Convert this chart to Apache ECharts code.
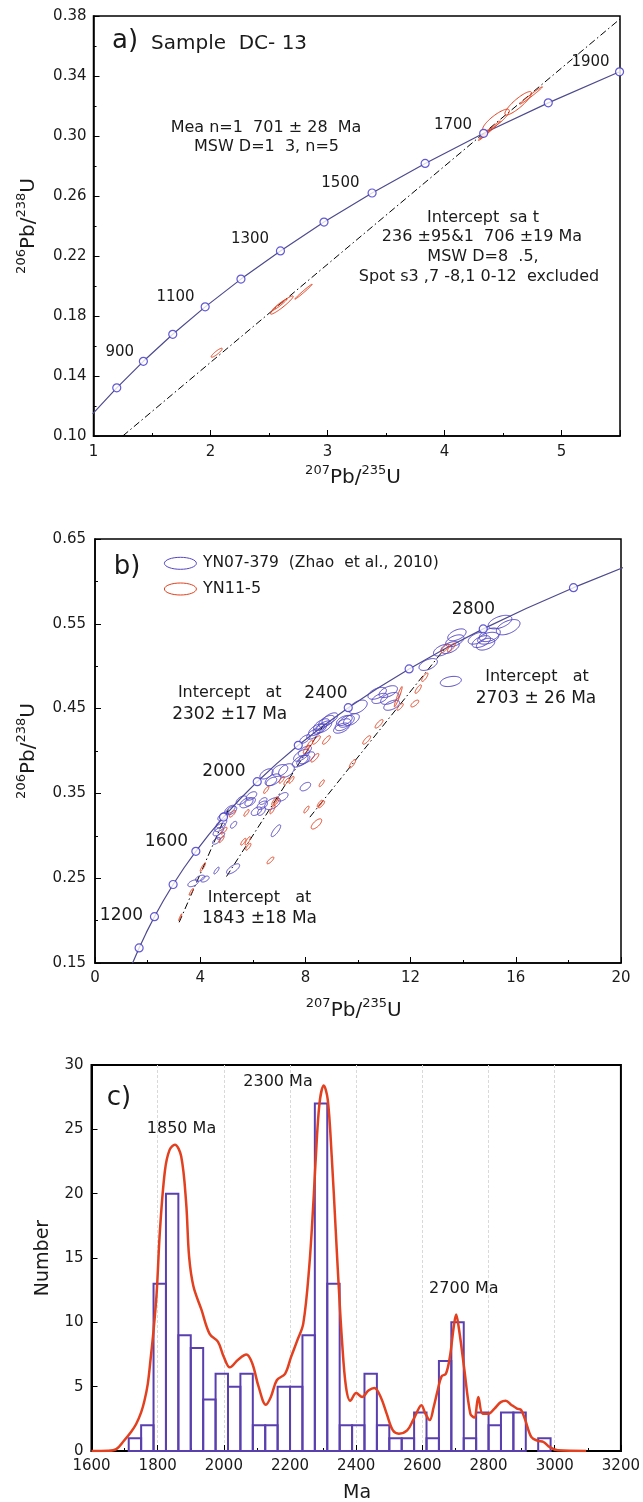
<!DOCTYPE html>
<html><head><meta charset="utf-8">
<script src="https://cdn.jsdelivr.net/npm/echarts@6/dist/echarts.min.js"></script>
<style>html,body{margin:0;padding:0;background:#fff}#c{width:643px;height:1502px}</style>
</head><body><div id="c"></div>
<script>
// ---------- DATA ----------
// Concordia reference points (age in Ma, 207Pb/235U, 206Pb/238U)
const concAges = [700,800,900,1000,1100,1200,1300,1400,1500,1600,1700,1800,1900,2000,2100,2200,2300,2400,2500,2600,2700,2800,2900,3000,3100];
const concR207 = [0.9925,1.1988,1.4263,1.6774,1.9545,2.2603,2.5977,2.9701,3.3810,3.8344,4.3348,4.8869,5.4962,6.1685,6.9105,7.7292,8.6326,9.6296,10.7297,11.9437,13.2833,14.7617,16.3930,18.1931,20.1795];
const concR206 = [0.1147,0.1321,0.1498,0.1678,0.1861,0.2046,0.2234,0.2426,0.2620,0.2817,0.3018,0.3221,0.3428,0.3638,0.3851,0.4067,0.4287,0.4511,0.4738,0.4968,0.5202,0.5440,0.5681,0.5926,0.6175];

// Panel a: analyses of sample DC-13 [207/235, 206/238, err207, err206, rho]
const dc13 = [
  [2.053,0.1555,0.047,0.0030,0.90],
  [2.61,0.1873,0.097,0.0061,0.95],
  [2.59,0.1875,0.064,0.0039,0.97],
  [2.795,0.1962,0.074,0.0050,0.99],
  [4.44,0.3107,0.114,0.0072,0.85],
  [4.63,0.3218,0.114,0.0078,0.88],
  [4.74,0.3270,0.097,0.0058,0.99],
  [4.39,0.3040,0.087,0.0060,0.99],
  [4.34,0.3005,0.050,0.0035,0.98]
];
const discordiaA = [[1.25,0.10],[5.5,0.378]];

// Panel b: YN07-379 (Zhao et al., 2010) and YN11-5
const yn07 = [
  [3.73,0.244,0.20,0.004,0.5],[4.00,0.250,0.18,0.0035,0.5],[4.18,0.249,0.16,0.0035,0.5],
  [4.62,0.259,0.10,0.004,0.8],[5.25,0.261,0.25,0.006,0.7],
  [4.62,0.294,0.15,0.004,0.6],[4.69,0.305,0.20,0.005,0.6],[4.75,0.310,0.20,0.005,0.6],
  [4.81,0.3145,0.20,0.005,0.6],[4.87,0.323,0.20,0.005,0.6],[4.78,0.300,0.15,0.004,0.6],
  [5.13,0.331,0.20,0.005,0.6],[5.19,0.330,0.20,0.005,0.5],[5.27,0.313,0.12,0.004,0.6],
  [5.57,0.342,0.20,0.005,0.5],[5.76,0.339,0.25,0.006,0.5],[5.95,0.347,0.20,0.005,0.5],
  [5.90,0.340,0.20,0.005,0.5],[6.14,0.329,0.20,0.005,0.5],[6.33,0.329,0.15,0.005,0.5],
  [6.36,0.336,0.20,0.005,0.5],[6.39,0.341,0.15,0.004,0.5],[6.71,0.364,0.20,0.005,0.5],
  [6.52,0.373,0.25,0.006,0.5],[6.77,0.366,0.30,0.007,0.5],[7.03,0.377,0.30,0.007,0.4],
  [7.28,0.377,0.30,0.008,0.4],[6.75,0.338,0.30,0.007,0.5],[7.14,0.346,0.20,0.005,0.5],
  [6.88,0.306,0.18,0.007,0.8],[8.00,0.358,0.20,0.005,0.5],
  [7.85,0.395,0.30,0.007,0.6],[7.80,0.388,0.30,0.007,0.6],[7.92,0.389,0.25,0.006,0.6],
  [7.98,0.400,0.25,0.006,0.6],[8.05,0.392,0.30,0.007,0.6],[7.98,0.414,0.20,0.005,0.6],
  [8.30,0.420,0.25,0.006,0.6],[8.42,0.425,0.30,0.007,0.6],[8.61,0.431,0.30,0.007,0.6],
  [8.70,0.4285,0.30,0.007,0.6],[8.80,0.435,0.30,0.007,0.6],[8.93,0.438,0.30,0.007,0.6],
  [8.55,0.426,0.25,0.006,0.6],[9.37,0.427,0.30,0.006,0.5],[9.43,0.431,0.30,0.007,0.5],
  [9.56,0.435,0.30,0.007,0.5],[9.75,0.437,0.30,0.007,0.5],[9.48,0.436,0.30,0.006,0.5],
  [10.00,0.452,0.35,0.008,0.5],[10.73,0.468,0.35,0.007,0.5],[10.83,0.462,0.30,0.006,0.5],
  [11.15,0.470,0.35,0.007,0.5],[11.21,0.462,0.35,0.007,0.5],[11.28,0.454,0.30,0.006,0.5],
  [12.67,0.502,0.35,0.007,0.5],[13.22,0.519,0.35,0.007,0.5],[13.50,0.522,0.35,0.007,0.5],
  [13.68,0.530,0.35,0.007,0.5],[13.76,0.537,0.35,0.007,0.5],[13.53,0.482,0.40,0.006,0.3],
  [14.54,0.533,0.35,0.007,0.5],[14.69,0.529,0.35,0.007,0.5],[14.85,0.526,0.35,0.007,0.4],
  [15.01,0.537,0.40,0.008,0.4],[15.40,0.552,0.45,0.008,0.5],[15.71,0.546,0.45,0.009,0.5],
  [14.95,0.533,0.40,0.007,0.4]
];
const yn11 = [
  [3.24,0.204,0.06,0.004,0.95],[3.66,0.234,0.08,0.004,0.9],[4.10,0.263,0.10,0.005,0.9],
  [4.81,0.296,0.10,0.004,0.8],[4.90,0.306,0.12,0.004,0.8],[5.23,0.326,0.12,0.004,0.8],
  [5.76,0.327,0.10,0.004,0.8],[5.64,0.293,0.10,0.004,0.8],[5.81,0.294,0.10,0.005,0.8],
  [5.83,0.287,0.10,0.004,0.8],[6.51,0.354,0.10,0.004,0.8],[6.84,0.341,0.12,0.005,0.8],
  [6.75,0.331,0.10,0.005,0.8],[6.90,0.340,0.10,0.004,0.8],[6.67,0.271,0.13,0.004,0.8],
  [7.10,0.366,0.10,0.004,0.8],[7.28,0.364,0.10,0.004,0.8],[7.47,0.366,0.10,0.004,0.8],
  [8.04,0.402,0.12,0.005,0.8],[8.17,0.408,0.12,0.005,0.8],[8.36,0.392,0.15,0.005,0.8],
  [8.42,0.413,0.15,0.005,0.8],[8.80,0.413,0.15,0.005,0.8],[8.62,0.362,0.10,0.004,0.8],
  [8.61,0.337,0.12,0.004,0.8],[8.04,0.331,0.10,0.004,0.8],[8.55,0.338,0.10,0.004,0.8],
  [8.42,0.314,0.20,0.006,0.7],[9.79,0.385,0.12,0.005,0.8],[10.33,0.413,0.15,0.005,0.8],
  [10.80,0.432,0.15,0.005,0.8],[11.53,0.464,0.15,0.012,0.95],[11.60,0.452,0.12,0.004,0.8],
  [12.16,0.456,0.15,0.004,0.7],[12.29,0.473,0.12,0.005,0.8],[12.54,0.487,0.12,0.005,0.8],
  [13.30,0.521,0.15,0.005,0.8],[13.55,0.522,0.15,0.005,0.8]
];
const discordia1843 = [[3.2,0.198],[5.07,0.331]];
const discordia2302 = [[5.0,0.252],[8.66,0.429]];
const discordia2703 = [[8.17,0.322],[13.28,0.520]];

// Panel c: age histogram and probability curve
const BIN_WIDTH = 37.5;
const binStarts = [1712.5,1750,1787.5,1825,1862.5,1900,1937.5,1975,2012.5,2050,2087.5,2125,2162.5,2200,2237.5,2275,2312.5,2350,2387.5,2425,2462.5,2500,2537.5,2575,2612.5,2650,2687.5,2725,2762.5,2800,2837.5,2875,2912.5,2950];
const binCounts = [1,2,13,20,9,8,4,6,5,6,2,2,5,5,9,27,13,2,2,6,2,1,1,3,1,7,10,1,3,2,3,3,0,1];
const probAges = [1600,1650,1675,1698,1720,1735,1750,1760,1770,1778,1788,1797,1807,1822,1836,1852,1871,1886,1895,1908,1932,1957,1982,2000,2018,2043,2068,2086,2105,2127,2142,2160,2185,2203,2222,2240,2258,2271,2277,2289,2302,2314,2326,2338,2345,2357,2369,2382,2400,2418,2437,2455,2474,2492,2511,2529,2554,2572,2591,2597,2609,2622,2634,2646,2658,2671,2683,2695,2702,2711,2726,2745,2757,2769,2782,2800,2818,2837,2852,2868,2886,2898,2911,2929,2948,2966,2985,3009,3095];
const probVals = [0,0.02,0.15,0.8,1.5,2.1,3.0,3.9,5.2,7.0,9.5,12.3,17.2,21.8,23.4,23.8,22.9,19.3,15.1,12.8,11.0,9.1,8.5,7.3,6.5,7.1,7.5,6.8,5.0,3.6,4.2,5.5,6.0,7.3,8.6,9.9,14.3,19.5,22.4,27.0,28.4,27.3,22.9,17.2,13.8,8.6,5.0,3.9,4.5,4.2,4.7,4.9,4.2,2.9,1.6,1.35,1.6,2.4,3.4,3.55,2.9,2.4,3.4,4.7,5.8,6.0,7.3,9.7,10.6,9.4,6.5,2.9,2.6,4.2,2.9,2.9,3.3,3.8,3.9,3.6,3.3,3.2,2.4,1.1,0.8,0.7,0.3,0.05,0];

// ---------- STYLE ----------
const FONT = 'DejaVu Sans';
const TXT = '#1a1a1a';
const C_CONC = '#4d4a8e', C_MARK = '#3b30c8', C_BLUE = '#5346c2', C_RED = '#e2401e', C_BAR = '#5a3fae';

const conc = (lo, hi) => concAges.map((a,i)=>[concR207[i],concR206[i],a]).filter(p=>p[2]>=lo&&p[2]<=hi);
const concMarks = (ages) => concAges.map((a,i)=>[concR207[i],concR206[i],a]).filter(p=>ages.includes(p[2]));

function ellipseSeries(name, data, idx, color) {
  return {
    type:'custom', name, xAxisIndex:idx, yAxisIndex:idx, data, clip:true, z:4,
    renderItem(params, api) {
      const cx=api.value(0), cy=api.value(1), sx=api.value(2), sy=api.value(3), r=api.value(4);
      const q=Math.sqrt(Math.max(0,1-r*r)); const pts=[];
      for (let k=0;k<64;k++){ const t=k/64*Math.PI*2;
        pts.push(api.coord([cx+sx*Math.cos(t), cy+sy*(r*Math.cos(t)+q*Math.sin(t))])); }
      return {type:'polygon', shape:{points:pts}, style:{fill:'none', stroke:color, lineWidth:1}};
    }
  };
}
const dashDot = [7,3,1.5,3];
function lineSeries(data, idx, color, width, type, z) {
  return {type:'line', data, xAxisIndex:idx, yAxisIndex:idx, symbol:'none', showSymbol:false,
    lineStyle:{color, width, type}, clip:true, z, silent:true};
}
function axisCommon(extra) {
  return Object.assign({
    type:'value',
    axisLine:{show:true, onZero:false, lineStyle:{color:'#000', width:1.5}},
    axisTick:{show:true, inside:true, length:6, lineStyle:{color:'#000', width:1}},
    minorTick:{show:true, splitNumber:2, length:3, lineStyle:{color:'#000', width:1}},
    axisLabel:{color:TXT, fontFamily:FONT, fontSize:15, margin:8},
    splitLine:{show:false}
  }, extra);
}
function txt(text, x, y, size, align, extra) {
  return Object.assign({type:'text', x, y, z:50, silent:true,
    style:{text, fontFamily:FONT, fontSize:size, fill:TXT,
      align:align||'center', textAlign:align||'center', verticalAlign:'middle', textVerticalAlign:'middle'}}, extra||{});
}
function ratioName(top, bot, x, y, rot) {
  return {type:'text', x, y, rotation:rot||0, z:50, silent:true,
    style:{text:'{s|'+top+'}{n|Pb/}{s|'+bot+'}{n|U}', fontFamily:FONT, fill:TXT,
      align:'center', textAlign:'center', verticalAlign:'middle', textVerticalAlign:'middle',
      rich:{s:{fontSize:13, fontFamily:FONT, fill:TXT, verticalAlign:'top', lineHeight:24},
            n:{fontSize:20, fontFamily:FONT, fill:TXT, verticalAlign:'bottom', lineHeight:24}}}};
}

const option = {
  animation:false,
  backgroundColor:'#fff',
  grid:[
    {left:93.5, top:16, width:526.5, height:420, show:true, borderColor:'#000', borderWidth:1.5, containLabel:false},
    {left:95, top:539, width:526, height:424, show:true, borderColor:'#000', borderWidth:1.5, containLabel:false},
    {left:91.5, top:1065, width:532, height:386, show:true, borderColor:'#000', borderWidth:2, containLabel:false}
  ],
  xAxis:[
    axisCommon({gridIndex:0, min:1, max:5.5, interval:1, axisLabel:{color:TXT, fontFamily:FONT, fontSize:15, margin:9, showMaxLabel:false}}),
    axisCommon({gridIndex:1, min:0, max:20, interval:4}),
    axisCommon({gridIndex:2, min:1600, max:3200, interval:200,
      axisLabel:{color:TXT, fontFamily:FONT, fontSize:15, margin:8, formatter:v=>String(v)},
      axisLine:{show:true, onZero:false, lineStyle:{color:'#000', width:2}},
      splitLine:{show:true, showMinLine:false, showMaxLine:false, lineStyle:{color:'#d9d9d9', width:1, type:[3,2]}}})
  ],
  yAxis:[
    axisCommon({gridIndex:0, min:0.10, max:0.38, interval:0.04, axisLabel:{color:TXT, fontFamily:FONT, fontSize:15, margin:7, formatter:v=>v.toFixed(2)}}),
    axisCommon({gridIndex:1, min:0.15, max:0.65, interval:0.1, axisLabel:{color:TXT, fontFamily:FONT, fontSize:15, margin:9, formatter:v=>v.toFixed(2)}}),
    axisCommon({gridIndex:2, min:0, max:30, interval:5, minorTick:{show:false},
      axisLine:{show:true, onZero:false, lineStyle:{color:'#000', width:2}}})
  ],
  series:[
    // panel a
    lineSeries(conc(700,2000).map(p=>[p[0],p[1]]), 0, C_CONC, 1.2, 'solid', 2),
    lineSeries(discordiaA, 0, '#000', 1, dashDot, 2),
    {type:'scatter', xAxisIndex:0, yAxisIndex:0, data:concMarks([800,900,1000,1100,1200,1300,1400,1500,1600,1700,1800,1900]).map(p=>[p[0],p[1]]),
      symbol:'circle', symbolSize:8, itemStyle:{color:'#fff', borderColor:C_MARK, borderWidth:1.2}, z:6, clip:false, silent:true},
    ellipseSeries('DC-13', dc13, 0, C_RED),
    // panel b
    lineSeries(conc(900,3100).map(p=>[p[0],p[1]]), 1, C_CONC, 1.2, 'solid', 2),
    lineSeries(discordia1843, 1, '#000', 1, dashDot, 2),
    lineSeries(discordia2302, 1, '#000', 1, dashDot, 2),
    lineSeries(discordia2703, 1, '#000', 1, dashDot, 2),
    ellipseSeries('YN07-379 (Zhao et al., 2010)', yn07, 1, C_BLUE),
    ellipseSeries('YN11-5', yn11, 1, C_RED),
    {type:'scatter', xAxisIndex:1, yAxisIndex:1, data:concMarks([1000,1200,1400,1600,1800,2000,2200,2400,2600,2800,3000]).map(p=>[p[0],p[1]]),
      symbol:'circle', symbolSize:8, itemStyle:{color:'#fff', borderColor:C_MARK, borderWidth:1.2}, z:6, silent:true},
    // panel c
    {type:'custom', xAxisIndex:2, yAxisIndex:2, z:3, silent:true,
      data:binStarts.map((s,i)=>[s,binCounts[i]]),
      renderItem(params, api){
        const x0=api.value(0), h=api.value(1);
        if (!h) return null;
        const p0=api.coord([x0,h]), p1=api.coord([x0+BIN_WIDTH,0]);
        return {type:'rect', shape:{x:p0[0], y:p0[1], width:p1[0]-p0[0], height:p1[1]-p0[1]},
          style:{fill:'none', stroke:C_BAR, lineWidth:2}};
      }},
    Object.assign(lineSeries(probAges.map((a,i)=>[a,probVals[i]]), 2, C_RED, 2.5, 'solid', 5), {smooth:0.35})
  ],
  graphic:[
    // panel a
    txt('a)', 125, 41, 26),
    txt('Sample  DC- 13', 151, 43.5, 20, 'left'),
    txt('Mea n=1  701 ± 28  Ma', 266, 128, 16),
    txt('MSW D=1  3, n=5', 266.5, 147, 16),
    txt('Intercept  sa t', 483, 218, 16),
    txt('236 ±95&1  706 ±19 Ma', 482, 237, 16),
    txt('MSW D=8  .5,', 483, 257, 16),
    txt('Spot s3 ,7 -8,1 0-12  excluded', 479, 277, 16),
    txt('900', 119.7, 351.7, 15), txt('1100', 175.5, 296.7, 15), txt('1300', 250, 239.3, 15),
    txt('1500', 340.4, 182.7, 15), txt('1700', 453, 125, 15), txt('1900', 590.5, 62.3, 15),
    ratioName('207','235', 353, 476),
    ratioName('206','238', 27, 226, Math.PI/2),
    // panel b
    txt('b)', 127, 567, 26),
    {type:'ellipse', shape:{cx:180.4, cy:563.3, rx:16, ry:6}, style:{fill:'none', stroke:C_BLUE, lineWidth:1}, z:50, silent:true},
    {type:'ellipse', shape:{cx:180.4, cy:589, rx:16, ry:6}, style:{fill:'none', stroke:C_RED, lineWidth:1}, z:50, silent:true},
    txt('YN07-379  (Zhao  et al., 2010)', 203, 563.3, 15.5, 'left'),
    txt('YN11-5', 203, 589, 16, 'left'),
    txt('2800', 473.5, 610, 17),
    txt('Intercept   at', 229.7, 693.3, 16), txt('2400', 326, 693.3, 17),
    txt('2302 ±17 Ma', 229.7, 715, 17),
    txt('Intercept   at', 537, 676.7, 16),
    txt('2703 ± 26 Ma', 536, 698.3, 17),
    txt('2000', 224, 771.7, 17), txt('1600', 166.5, 841.7, 17), txt('1200', 121.5, 915.5, 17),
    txt('Intercept   at', 259.5, 898.3, 16),
    txt('1843 ±18 Ma', 259.5, 919, 17),
    ratioName('207','235', 353.7, 1009),
    ratioName('206','238', 27, 751, Math.PI/2),
    // panel c
    txt('c)', 119, 1098, 26),
    txt('1850 Ma', 181.5, 1129, 16),
    txt('2300 Ma', 278, 1081.7, 16),
    txt('2700 Ma', 463.8, 1289.3, 16),
    txt('Number', 43, 1258, 19, 'center', {rotation:Math.PI/2}),
    txt('Ma', 357, 1493, 19)
  ]
};
const chart = echarts.init(document.getElementById('c'), null, {renderer:'canvas'});
chart.setOption(option);
</script>
</body></html>
